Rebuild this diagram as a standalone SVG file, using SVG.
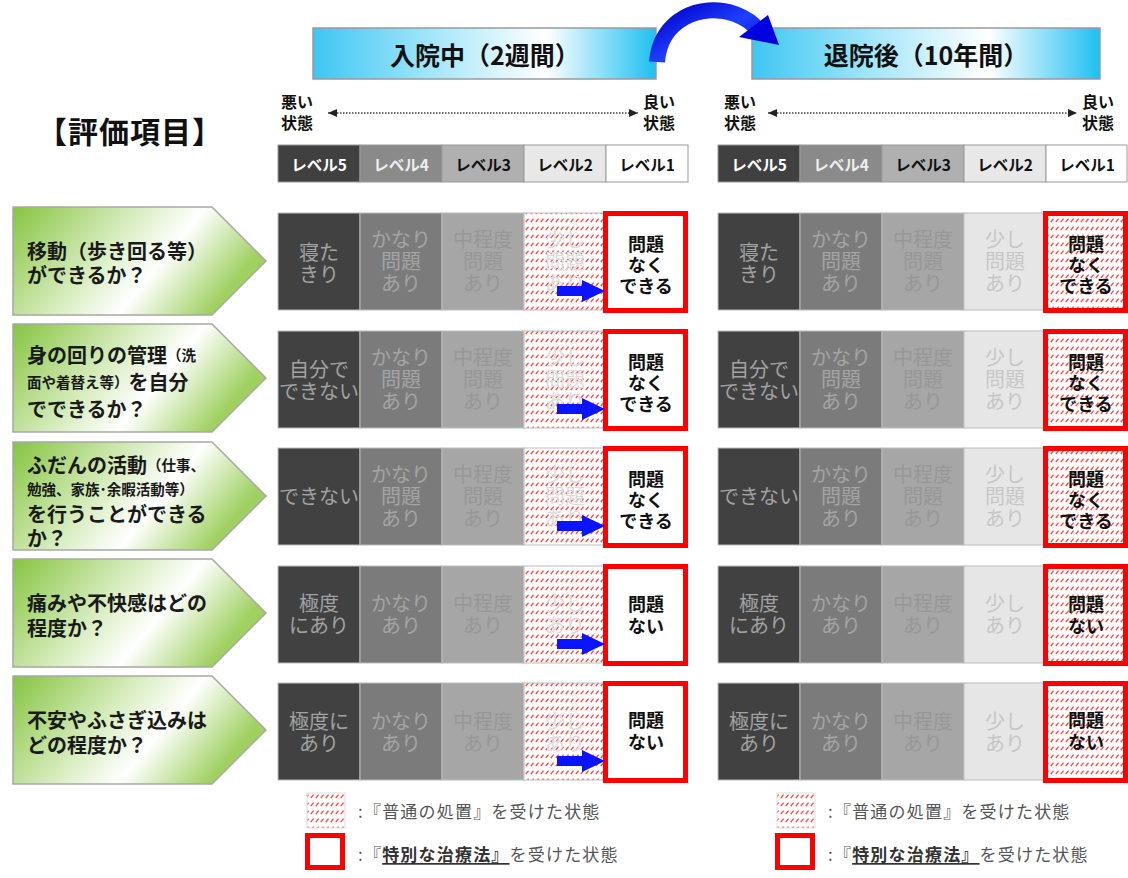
<svg xmlns="http://www.w3.org/2000/svg" width="1128" height="878" viewBox="0 0 1128 878">
<defs>
<linearGradient id="hdrGrad" x1="0" y1="0" x2="1" y2="0">
<stop offset="0" stop-color="#3ec6f2"/><stop offset="0.35" stop-color="#a5e6fa"/><stop offset="0.68" stop-color="#ffffff"/><stop offset="1" stop-color="#1cc0f0"/>
</linearGradient>
<linearGradient id="lblGrad" x1="0" y1="0" x2="1" y2="0.35">
<stop offset="0" stop-color="#86c440"/><stop offset="0.45" stop-color="#d8edc0"/><stop offset="0.68" stop-color="#ffffff"/><stop offset="1" stop-color="#9fd060"/>
</linearGradient>
<linearGradient id="blueGrad" x1="0" y1="0" x2="1" y2="1">
<stop offset="0" stop-color="#0000c8"/><stop offset="0.5" stop-color="#2040ff"/><stop offset="1" stop-color="#0000d0"/>
</linearGradient>
<pattern id="hatch" patternUnits="userSpaceOnUse" width="5" height="8">
<rect width="5" height="8" fill="#ffffff"/>
<path d="M0.8,6 L3.6,2.6" stroke="#ff4a4a" stroke-width="1.4"/>
</pattern>
<marker id="tri" viewBox="0 0 9 8" markerWidth="9" markerHeight="8" refX="9" refY="4" orient="auto-start-reverse" markerUnits="userSpaceOnUse">
<path d="M0,0 L9,4 L0,8 z" fill="#222"/>
</marker>
<style>
text{font-family:"Noto Sans CJK JP","Noto Sans",sans-serif;dominant-baseline:central}
.hdr{fill:url(#hdrGrad);stroke:#9a9a9a;stroke-width:1.5}
.hdrT{font-size:25px;font-weight:700;fill:#111;text-anchor:middle}
.scale{font-size:16px;font-weight:700;fill:#111}
.dots{stroke:#444;stroke-width:1.3;stroke-dasharray:1.5 1.5;marker-start:url(#tri);marker-end:url(#tri)}
.lv{stroke:#999;stroke-width:1}
.lvT{font-size:15.5px;font-weight:700;text-anchor:middle}
.lbl{fill:url(#lblGrad);stroke:#a8a8a8;stroke-width:1.5}
.lblT{font-size:20px;font-weight:700;fill:#1a1a1a}
.sm{font-size:14.5px}
.c5{fill:#414141;stroke:#bdbdbd;stroke-width:1}
.c4{fill:#7b7b7b;stroke:#bdbdbd;stroke-width:1}
.c3{fill:#a6a6a6;stroke:#bdbdbd;stroke-width:1}
.c2{fill:#e6e6e6;stroke:#bdbdbd;stroke-width:1}
.ch{fill:url(#hatch);stroke:#bdbdbd;stroke-width:1}
.c1{fill:#ffffff}
.red{fill:none;stroke:#ff0000;stroke-width:5}
.t{font-size:20px;text-anchor:middle}
.t5{fill:#a2a2a2}.t4{fill:#a4a4a4}.t3{fill:#979797}.t2{fill:#c6c6c6}.th{fill:#dcdcdc}
.t1{font-size:18px;font-weight:700;fill:#111;text-anchor:middle}
.blue{fill:#0a14ff}
.leg{font-size:17px;fill:#555;letter-spacing:1.2px}
</style>
</defs>
<rect width="1128" height="878" fill="#ffffff"/>

<g id="header-in">
<rect class="hdr" x="313" y="28" width="343" height="51"/>
<text class="hdrT" x="485" y="54">入院中（2週間）</text>
</g>
<g id="header-out">
<rect class="hdr" x="752" y="28" width="348" height="51"/>
<text class="hdrT" x="926" y="54">退院後（10年間）</text>
</g>

<g id="connectors">
<path d="M657,62 C660,20 700,2 735,14 C748,19 754,24 758,30" fill="none" stroke="url(#blueGrad)" stroke-width="16"/>
<polygon points="739,37 768,15 779,45" fill="#0000e0"/>
</g>

<g id="title">
<text x="130" y="130" font-size="30" font-weight="700" fill="#111" text-anchor="middle" letter-spacing="1">【評価項目】</text>
</g>

<g id="scale-in">
<text class="scale" x="281" y="101">悪い</text>
<text class="scale" x="281" y="122">状態</text>
<line class="dots" x1="328" y1="113" x2="638" y2="113"/>
<text class="scale" x="643" y="101">良い</text>
<text class="scale" x="643" y="122">状態</text>
</g>
<g id="scale-out">
<text class="scale" x="724" y="101">悪い</text>
<text class="scale" x="724" y="122">状態</text>
<line class="dots" x1="768" y1="113" x2="1077" y2="113"/>
<text class="scale" x="1082" y="101">良い</text>
<text class="scale" x="1082" y="122">状態</text>
</g>

<g id="levels-in">
<rect class="lv" x="278" y="145" width="82" height="37" fill="#404040"/>
<rect class="lv" x="360" y="145" width="82" height="37" fill="#8a8a8a"/>
<rect class="lv" x="442" y="145" width="82" height="37" fill="#b0b0b0"/>
<rect class="lv" x="524" y="145" width="82" height="37" fill="#e8e8e8"/>
<rect class="lv" x="606" y="145" width="82" height="37" fill="#ffffff"/>
<text class="lvT" x="319" y="164" fill="#ffffff">レベル5</text>
<text class="lvT" x="401" y="164" fill="#eeeeee">レベル4</text>
<text class="lvT" x="483" y="164" fill="#111">レベル3</text>
<text class="lvT" x="565" y="164" fill="#111">レベル2</text>
<text class="lvT" x="647" y="164" fill="#111">レベル1</text>
</g>
<g id="levels-out">
<rect class="lv" x="718" y="145" width="82" height="37" fill="#404040"/>
<rect class="lv" x="800" y="145" width="82" height="37" fill="#8a8a8a"/>
<rect class="lv" x="882" y="145" width="82" height="37" fill="#b0b0b0"/>
<rect class="lv" x="964" y="145" width="82" height="37" fill="#e8e8e8"/>
<rect class="lv" x="1046" y="145" width="81" height="37" fill="#ffffff"/>
<text class="lvT" x="759" y="164" fill="#ffffff">レベル5</text>
<text class="lvT" x="841" y="164" fill="#eeeeee">レベル4</text>
<text class="lvT" x="923" y="164" fill="#111">レベル3</text>
<text class="lvT" x="1005" y="164" fill="#111">レベル2</text>
<text class="lvT" x="1087" y="164" fill="#111">レベル1</text>
</g>

<!-- Row labels -->
<g id="label-1">
<polygon class="lbl" points="13,207 212,207 266,261 212,315 13,315"/>
<text class="lblT" x="27" y="250">移動（歩き回る等）</text>
<text class="lblT" x="27" y="274">ができるか？</text>
</g>
<g id="label-2">
<polygon class="lbl" points="13,324 212,324 266,378 212,432 13,432"/>
<text class="lblT" x="27" y="354">身の回りの管理<tspan class="sm">（洗</tspan></text>
<text class="lblT" x="27" y="381"><tspan class="sm">面や着替え等）</tspan>を自分</text>
<text class="lblT" x="27" y="408">でできるか？</text>
</g>
<g id="label-3">
<polygon class="lbl" points="13,442 212,442 266,496 212,550 13,550"/>
<text class="lblT" x="27" y="464">ふだんの活動<tspan class="sm">（仕事、</tspan></text>
<text class="lblT sm" x="27" y="488">勉強、家族･余暇活動等）</text>
<text class="lblT" x="27" y="513">を行うことができる</text>
<text class="lblT" x="27" y="537">か？</text>
</g>
<g id="label-4">
<polygon class="lbl" points="13,559 212,559 266,613 212,667 13,667"/>
<text class="lblT" x="27" y="602">痛みや不快感はどの</text>
<text class="lblT" x="27" y="627">程度か？</text>
</g>
<g id="label-5">
<polygon class="lbl" points="13,676 212,676 266,730 212,784 13,784"/>
<text class="lblT" x="27" y="719">不安やふさぎ込みは</text>
<text class="lblT" x="27" y="744">どの程度か？</text>
</g>

<!-- Row 1 grids (T=213) -->
<g id="grid-in-1">
<rect class="c5" x="278" y="213" width="82" height="97"/>
<rect class="c4" x="360" y="213" width="82" height="97"/>
<rect class="c3" x="442" y="213" width="82" height="97"/>
<rect class="ch" x="524" y="213" width="82" height="97"/>
<rect class="c1" x="606" y="213" width="82" height="97"/>
<text class="t t5" x="319" y="251">寝た</text><text class="t t5" x="319" y="273">きり</text>
<text class="t t4" x="401" y="238">かなり</text><text class="t t4" x="401" y="260">問題</text><text class="t t4" x="401" y="282">あり</text>
<text class="t t3" x="483" y="238">中程度</text><text class="t t3" x="483" y="260">問題</text><text class="t t3" x="483" y="282">あり</text>
<text class="t th" x="565" y="238">少し</text><text class="t th" x="565" y="260">問題</text><text class="t th" x="565" y="282">あり</text>
<text class="t1" x="646" y="243">問題</text><text class="t1" x="646" y="264">なく</text><text class="t1" x="646" y="285">できる</text>
<rect class="red" x="605.5" y="213.5" width="80" height="97"/>
<polygon class="blue" points="557,286 582,286 582,280 605,291 582,302 582,296 557,296"/>
</g>
<g id="grid-out-1">
<rect class="c5" x="718" y="213" width="82" height="97"/>
<rect class="c4" x="800" y="213" width="82" height="97"/>
<rect class="c3" x="882" y="213" width="82" height="97"/>
<rect class="c2" x="964" y="213" width="82" height="97"/>
<rect class="ch" x="1046" y="213" width="82" height="97"/>
<text class="t t5" x="759" y="251">寝た</text><text class="t t5" x="759" y="273">きり</text>
<text class="t t4" x="841" y="238">かなり</text><text class="t t4" x="841" y="260">問題</text><text class="t t4" x="841" y="282">あり</text>
<text class="t t3" x="923" y="238">中程度</text><text class="t t3" x="923" y="260">問題</text><text class="t t3" x="923" y="282">あり</text>
<text class="t t2" x="1005" y="238">少し</text><text class="t t2" x="1005" y="260">問題</text><text class="t t2" x="1005" y="282">あり</text>
<text class="t1" x="1086" y="243">問題</text><text class="t1" x="1086" y="264">なく</text><text class="t1" x="1086" y="285">できる</text>
<rect class="red" x="1045.5" y="213.5" width="80" height="97"/>
</g>

<!-- Row 2 grids (T=331) -->
<g id="grid-in-2">
<rect class="c5" x="278" y="331" width="82" height="97"/>
<rect class="c4" x="360" y="331" width="82" height="97"/>
<rect class="c3" x="442" y="331" width="82" height="97"/>
<rect class="ch" x="524" y="331" width="82" height="97"/>
<rect class="c1" x="606" y="331" width="82" height="97"/>
<text class="t t5" x="319" y="368">自分で</text><text class="t t5" x="319" y="390">できない</text>
<text class="t t4" x="401" y="356">かなり</text><text class="t t4" x="401" y="378">問題</text><text class="t t4" x="401" y="400">あり</text>
<text class="t t3" x="483" y="356">中程度</text><text class="t t3" x="483" y="378">問題</text><text class="t t3" x="483" y="400">あり</text>
<text class="t th" x="565" y="356">少し</text><text class="t th" x="565" y="378">問題</text><text class="t th" x="565" y="400">あり</text>
<text class="t1" x="646" y="361">問題</text><text class="t1" x="646" y="382">なく</text><text class="t1" x="646" y="403">できる</text>
<rect class="red" x="605.5" y="331.5" width="80" height="97"/>
<polygon class="blue" points="557,404 582,404 582,398 605,409 582,420 582,414 557,414"/>
</g>
<g id="grid-out-2">
<rect class="c5" x="718" y="331" width="82" height="97"/>
<rect class="c4" x="800" y="331" width="82" height="97"/>
<rect class="c3" x="882" y="331" width="82" height="97"/>
<rect class="c2" x="964" y="331" width="82" height="97"/>
<rect class="ch" x="1046" y="331" width="82" height="97"/>
<text class="t t5" x="759" y="368">自分で</text><text class="t t5" x="759" y="390">できない</text>
<text class="t t4" x="841" y="356">かなり</text><text class="t t4" x="841" y="378">問題</text><text class="t t4" x="841" y="400">あり</text>
<text class="t t3" x="923" y="356">中程度</text><text class="t t3" x="923" y="378">問題</text><text class="t t3" x="923" y="400">あり</text>
<text class="t t2" x="1005" y="356">少し</text><text class="t t2" x="1005" y="378">問題</text><text class="t t2" x="1005" y="400">あり</text>
<text class="t1" x="1086" y="361">問題</text><text class="t1" x="1086" y="382">なく</text><text class="t1" x="1086" y="403">できる</text>
<rect class="red" x="1045.5" y="331.5" width="80" height="97"/>
</g>

<!-- Row 3 grids (T=448) -->
<g id="grid-in-3">
<rect class="c5" x="278" y="448" width="82" height="97"/>
<rect class="c4" x="360" y="448" width="82" height="97"/>
<rect class="c3" x="442" y="448" width="82" height="97"/>
<rect class="ch" x="524" y="448" width="82" height="97"/>
<rect class="c1" x="606" y="448" width="82" height="97"/>
<text class="t t5" x="319" y="495">できない</text>
<text class="t t4" x="401" y="473">かなり</text><text class="t t4" x="401" y="495">問題</text><text class="t t4" x="401" y="517">あり</text>
<text class="t t3" x="483" y="473">中程度</text><text class="t t3" x="483" y="495">問題</text><text class="t t3" x="483" y="517">あり</text>
<text class="t th" x="565" y="473">少し</text><text class="t th" x="565" y="495">問題</text><text class="t th" x="565" y="517">あり</text>
<text class="t1" x="646" y="478">問題</text><text class="t1" x="646" y="499">なく</text><text class="t1" x="646" y="520">できる</text>
<rect class="red" x="605.5" y="448.5" width="80" height="97"/>
<polygon class="blue" points="557,521 582,521 582,515 605,526 582,537 582,531 557,531"/>
</g>
<g id="grid-out-3">
<rect class="c5" x="718" y="448" width="82" height="97"/>
<rect class="c4" x="800" y="448" width="82" height="97"/>
<rect class="c3" x="882" y="448" width="82" height="97"/>
<rect class="c2" x="964" y="448" width="82" height="97"/>
<rect class="ch" x="1046" y="448" width="82" height="97"/>
<text class="t t5" x="759" y="495">できない</text>
<text class="t t4" x="841" y="473">かなり</text><text class="t t4" x="841" y="495">問題</text><text class="t t4" x="841" y="517">あり</text>
<text class="t t3" x="923" y="473">中程度</text><text class="t t3" x="923" y="495">問題</text><text class="t t3" x="923" y="517">あり</text>
<text class="t t2" x="1005" y="473">少し</text><text class="t t2" x="1005" y="495">問題</text><text class="t t2" x="1005" y="517">あり</text>
<text class="t1" x="1086" y="478">問題</text><text class="t1" x="1086" y="499">なく</text><text class="t1" x="1086" y="520">できる</text>
<rect class="red" x="1045.5" y="448.5" width="80" height="97"/>
</g>

<!-- Row 4 grids (T=566) -->
<g id="grid-in-4">
<rect class="c5" x="278" y="566" width="82" height="97"/>
<rect class="c4" x="360" y="566" width="82" height="97"/>
<rect class="c3" x="442" y="566" width="82" height="97"/>
<rect class="ch" x="524" y="566" width="82" height="97"/>
<rect class="c1" x="606" y="566" width="82" height="97"/>
<text class="t t5" x="319" y="602">極度</text><text class="t t5" x="319" y="624">にあり</text>
<text class="t t4" x="401" y="602">かなり</text><text class="t t4" x="401" y="624">あり</text>
<text class="t t3" x="483" y="602">中程度</text><text class="t t3" x="483" y="624">あり</text>
<text class="t th" x="565" y="602">少し</text><text class="t th" x="565" y="624">あり</text>
<text class="t1" x="646" y="603">問題</text><text class="t1" x="646" y="625">ない</text>
<rect class="red" x="605.5" y="566.5" width="80" height="97"/>
<polygon class="blue" points="557,639 582,639 582,633 605,644 582,655 582,649 557,649"/>
</g>
<g id="grid-out-4">
<rect class="c5" x="718" y="566" width="82" height="97"/>
<rect class="c4" x="800" y="566" width="82" height="97"/>
<rect class="c3" x="882" y="566" width="82" height="97"/>
<rect class="c2" x="964" y="566" width="82" height="97"/>
<rect class="ch" x="1046" y="566" width="82" height="97"/>
<text class="t t5" x="759" y="602">極度</text><text class="t t5" x="759" y="624">にあり</text>
<text class="t t4" x="841" y="602">かなり</text><text class="t t4" x="841" y="624">あり</text>
<text class="t t3" x="923" y="602">中程度</text><text class="t t3" x="923" y="624">あり</text>
<text class="t t2" x="1005" y="602">少し</text><text class="t t2" x="1005" y="624">あり</text>
<text class="t1" x="1086" y="603">問題</text><text class="t1" x="1086" y="625">ない</text>
<rect class="red" x="1045.5" y="566.5" width="80" height="97"/>
</g>

<!-- Row 5 grids (T=683) -->
<g id="grid-in-5">
<rect class="c5" x="278" y="683" width="82" height="97"/>
<rect class="c4" x="360" y="683" width="82" height="97"/>
<rect class="c3" x="442" y="683" width="82" height="97"/>
<rect class="ch" x="524" y="683" width="82" height="97"/>
<rect class="c1" x="606" y="683" width="82" height="97"/>
<text class="t t5" x="319" y="720">極度に</text><text class="t t5" x="319" y="742">あり</text>
<text class="t t4" x="401" y="720">かなり</text><text class="t t4" x="401" y="742">あり</text>
<text class="t t3" x="483" y="720">中程度</text><text class="t t3" x="483" y="742">あり</text>
<text class="t th" x="565" y="720">少し</text><text class="t th" x="565" y="742">あり</text>
<text class="t1" x="646" y="719">問題</text><text class="t1" x="646" y="741">ない</text>
<rect class="red" x="605.5" y="683.5" width="80" height="97"/>
<polygon class="blue" points="557,756 582,756 582,750 605,761 582,772 582,766 557,766"/>
</g>
<g id="grid-out-5">
<rect class="c5" x="718" y="683" width="82" height="97"/>
<rect class="c4" x="800" y="683" width="82" height="97"/>
<rect class="c3" x="882" y="683" width="82" height="97"/>
<rect class="c2" x="964" y="683" width="82" height="97"/>
<rect class="ch" x="1046" y="683" width="82" height="97"/>
<text class="t t5" x="759" y="720">極度に</text><text class="t t5" x="759" y="742">あり</text>
<text class="t t4" x="841" y="720">かなり</text><text class="t t4" x="841" y="742">あり</text>
<text class="t t3" x="923" y="720">中程度</text><text class="t t3" x="923" y="742">あり</text>
<text class="t t2" x="1005" y="720">少し</text><text class="t t2" x="1005" y="742">あり</text>
<text class="t1" x="1086" y="719">問題</text><text class="t1" x="1086" y="741">ない</text>
<rect class="red" x="1045.5" y="683.5" width="80" height="97"/>
</g>

<!-- Legends -->
<g id="legend-in">
<rect x="307" y="793" width="38" height="35" fill="url(#hatch)" stroke="#ddd" stroke-width="1"/>
<text class="leg" x="358" y="810">:『普通の処置』を受けた状態</text>
<rect class="red" x="307.5" y="835.5" width="35" height="32" fill="#fff"/>
<text class="leg" x="358" y="853">:『<tspan font-weight="700" fill="#333" text-decoration="underline">特別な治療法』</tspan>を受けた状態</text>
</g>
<g id="legend-out">
<rect x="777" y="793" width="38" height="35" fill="url(#hatch)" stroke="#ddd" stroke-width="1"/>
<text class="leg" x="828" y="810">:『普通の処置』を受けた状態</text>
<rect class="red" x="777.5" y="835.5" width="35" height="32" fill="#fff"/>
<text class="leg" x="828" y="853">:『<tspan font-weight="700" fill="#333" text-decoration="underline">特別な治療法』</tspan>を受けた状態</text>
</g>
</svg>
